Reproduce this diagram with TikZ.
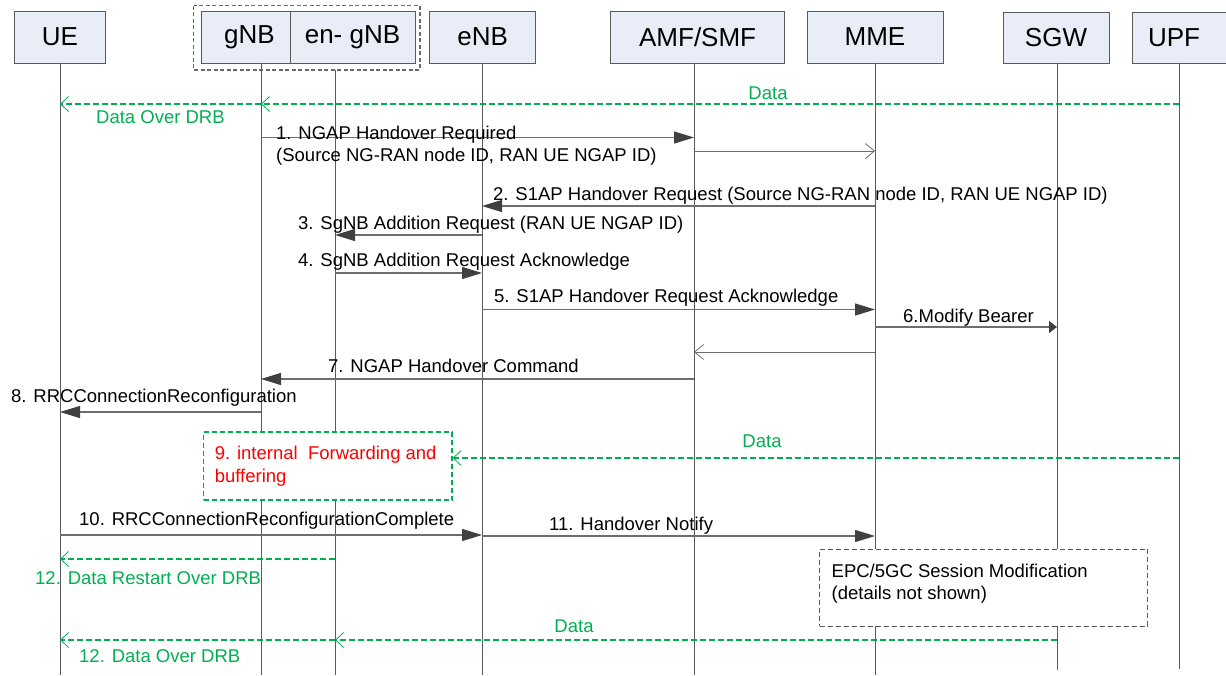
\documentclass[tikz,border=0pt]{standalone}
\usepackage{fontspec}
\setmainfont{Liberation Sans}
\usetikzlibrary{arrows.meta}
\definecolor{boxfill}{HTML}{E8EDF7}
\definecolor{boxline}{HTML}{595959}
\definecolor{grpline}{HTML}{6A6A6A}
\definecolor{lifel}{HTML}{5A5A5A}
\definecolor{msgline}{HTML}{6E6E6E}
\definecolor{headc}{HTML}{404040}
\definecolor{grn}{HTML}{00B050}
\definecolor{rd}{HTML}{FF0000}
\begin{document}
\begin{tikzpicture}[x=1pt,y=-1pt,
  actor/.style={draw=boxline, fill=boxfill, line width=0.9pt, inner sep=0pt, font=\fontsize{26}{30}\selectfont},
  actortext/.style={inner sep=0pt, font=\fontsize{26}{30}\selectfont},
  life/.style={draw=lifel, line width=0.9pt},
  msg/.style={draw=msgline, line width=1.3pt, -{Triangle[length=20pt,width=12pt,color=headc,fill=headc]}},
  smallmsg/.style={draw=msgline, line width=1.3pt, -{Triangle[length=8pt,width=12pt,color=headc,fill=headc]}},
  openmsg/.style={draw=msgline, line width=1pt, -{Straight Barb[length=9pt,width=15pt,line width=0.8pt]}},
  gdata/.style={draw=grn, line width=1.1pt, dash pattern=on 6pt off 3pt, -{Straight Barb[length=8pt,width=15pt,line width=0.8pt]}},
  lbl/.style={inner sep=0pt, anchor=west, text height=13.2pt, text depth=0pt, font=\fontsize{18.5}{22}\selectfont},
  clbl/.style={lbl, anchor=center},
  glbl/.style={lbl, text=grn},
  gclbl/.style={clbl, text=grn},
  rlbl/.style={lbl, text=rd},
  groupbox/.style={draw=grpline, line width=1.5pt, dash pattern=on 4pt off 2.5pt},
  notebox/.style={draw=boxline, fill=white, line width=1pt, dash pattern=on 5pt off 3pt},
  fwdbox/.style={draw=grn, fill=white, line width=1.1pt, dash pattern=on 5pt off 3pt}
]
\useasboundingbox (0,0) rectangle (1226,675);

% group box around gNB / en-gNB
\draw[groupbox] (193.5,5.7) rectangle (420,70);

% actors
\node[actor, minimum width=91pt, minimum height=52pt] (ue) at (60,37) {UE};
\node[actor, minimum width=89pt, minimum height=52pt] (gnb) at (245.5,37) {};
\node[actortext] (gnbtxt) at (249.5,37) {gNB};
\node[actor, minimum width=125pt, minimum height=52pt] (engnb) at (352.5,37) {en- gNB};
\node[actor, minimum width=106pt, minimum height=52pt] (enb) at (482.6,37) {eNB};
\node[actor, minimum width=173.6pt, minimum height=52pt] (amf) at (697.6,37) {AMF/SMF};
\node[actor, minimum width=136pt, minimum height=52pt] (mme) at (875,37) {MME};
\node[actor, minimum width=106pt, minimum height=51pt] (sgw) at (1056,38) {SGW};
\node[actor, minimum width=100pt, minimum height=51pt] (upf) at (1182,37.5) {};
\node[actortext] (upftxt) at (1174,37.5) {UPF};

% lifeline coordinates
\coordinate (Lue-t) at (60,63);      \coordinate (Lue-b) at (60,675);
\coordinate (Lgnb-t) at (261,63);    \coordinate (Lgnb-b) at (261,675);
\coordinate (Lengnb-t) at (335,70);  \coordinate (Lengnb-b) at (335,675);
\coordinate (Lenb-t) at (482,63);    \coordinate (Lenb-b) at (482,675);
\coordinate (Lamf-t) at (694,63);    \coordinate (Lamf-b) at (694,675);
\coordinate (Lmme-t) at (875,63);    \coordinate (Lmme-b) at (875,675);
\coordinate (Lsgw-t) at (1057,63);   \coordinate (Lsgw-b) at (1057,670);
\coordinate (Lupf-t) at (1179,63);   \coordinate (Lupf-b) at (1179,669);

\foreach \n in {ue,gnb,engnb,enb,amf,mme,sgw,upf}
  \draw[life] (L\n-t) -- (L\n-b);

% top data
\draw[gdata] (Lupf-t |- 0,104) -- (Lgnb-t |- 0,104);
\draw[gdata] (Lgnb-t |- 0,104) -- (Lue-t |- 0,104);
\node[gclbl] (t-data1) at (768,93) {Data};
\node[glbl] (t-drb1) at (96,117) {Data Over DRB};

% 1
\draw[msg] (Lgnb-t |- 0,137.5) -- (Lamf-t |- 0,137.5);
\node[lbl] (t-1a) at (276,132.7) {1. NGAP Handover Required};
\node[lbl] (t-1b) at (276,155) {(Source NG-RAN node ID, RAN UE NGAP ID)};
\draw[openmsg] (Lamf-t |- 0,151) -- (Lmme-t |- 0,151);

% 2
\draw[msg] (Lmme-t |- 0,206) -- (Lenb-t |- 0,206);
\node[lbl] (t-2) at (493,194) {2. S1AP Handover Request (Source NG-RAN node ID, RAN UE NGAP ID)};

% 3
\draw[msg] (Lenb-t |- 0,235) -- (Lengnb-t |- 0,235);
\node[lbl] (t-3) at (298,223) {3. SgNB Addition Request (RAN UE NGAP ID)};

% 4
\draw[msg] (Lengnb-t |- 0,273) -- (Lenb-t |- 0,273);
\node[lbl] (t-4) at (298,260) {4. SgNB Addition Request Acknowledge};

% 5
\draw[msg] (Lenb-t |- 0,309.5) -- (Lmme-t |- 0,309.5);
\node[lbl] (t-5) at (494,296) {5. S1AP Handover Request Acknowledge};

% 6
\draw[smallmsg] (Lmme-t |- 0,327) -- (Lsgw-t |- 0,327);
\node[lbl] (t-6) at (903,316) {6.Modify Bearer};

% MME -> AMF
\draw[openmsg] (Lmme-t |- 0,352) -- (Lamf-t |- 0,352);

% 7
\draw[msg] (Lamf-t |- 0,379) -- (Lgnb-t |- 0,379);
\node[lbl] (t-7) at (328,366) {7. NGAP Handover Command};

% 8
\draw[msg] (Lgnb-t |- 0,412) -- (Lue-t |- 0,412);
\node[lbl] (t-8) at (11,396) {8. RRCConnectionReconfiguration};

% 9 forwarding box
\node[fwdbox, minimum width=248.5pt, minimum height=68pt, inner sep=0pt] (fwd) at (327.75,466) {};
\node[rlbl] (t-9a) at (214.6,453) {9. internal\ \ Forwarding and};
\node[rlbl] (t-9b) at (214.6,476) {buffering};
\draw[gdata] (Lupf-t |- 0,458) -- (fwd.east |- 0,458);
\node[gclbl] (t-data2) at (762,441) {Data};

% 10
\draw[msg] (Lue-t |- 0,535) -- (Lenb-t |- 0,535);
\node[lbl] (t-10) at (79,519) {10. RRCConnectionReconfigurationComplete};

% 11
\draw[msg] (Lenb-t |- 0,536) -- (Lmme-t |- 0,536);
\node[lbl] (t-11) at (549,524) {11. Handover Notify};

% 12 restart
\draw[gdata] (Lengnb-t |- 0,559) -- (Lue-t |- 0,559);
\node[glbl] (t-12a) at (35,578) {12. Data Restart Over DRB};

% EPC/5GC box
\node[notebox, minimum width=328pt, minimum height=77pt, inner sep=0pt] (epc) at (983.7,587.5) {};
\node[lbl] (t-epc1) at (831.5,571) {EPC/5GC Session Modification};
\node[lbl] (t-epc2) at (831.5,593) {(details not shown)};

% bottom data
\draw[gdata] (Lsgw-t |- 0,640) -- (Lengnb-t |- 0,640);
\draw[gdata] (Lengnb-t |- 0,640) -- (Lue-t |- 0,640);
\node[gclbl] (t-data3) at (574,626) {Data};
\node[glbl] (t-12b) at (79,656) {12. Data Over DRB};
\end{tikzpicture}
\end{document}
